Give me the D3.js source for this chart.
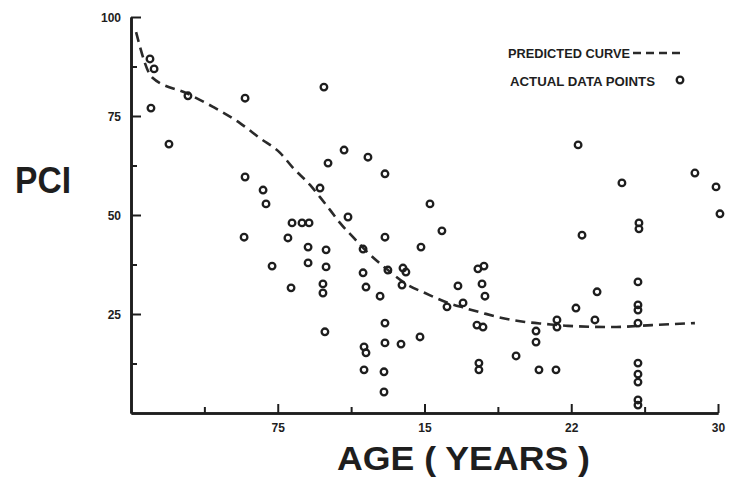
<!DOCTYPE html>
<html>
<head>
<meta charset="utf-8">
<script src="https://cdn.jsdelivr.net/npm/d3@7"></script>
<style>
  html, body { margin: 0; padding: 0; background: #fff; }
  svg { display: block; }
  .tick text { font-family: "Liberation Sans", Arial, sans-serif; font-weight: bold; font-size: 12px; fill: #1e1e1e; }
</style>
</head>
<body>
<svg id="chart" width="732" height="478"></svg>
<script>
// actual data points (age in years, PCI)
var pointAge = [0.97, 1.18, 1.02, 1.94, 2.91, 5.83, 5.83, 6.75, 6.9, 5.78,
  8.23, 8.74, 9.1, 8.02, 9.86, 10.07, 9.66, 7.21, 9.05, 9.05,
  9.97, 9.97, 8.18, 9.81, 9.81, 9.91, 10.89, 12.11, 12.98, 11.09,
  12.98, 15.28, 15.89, 14.82, 11.86, 11.86, 12.01, 12.73, 13.13, 13.9,
  14.05, 13.85, 12.98, 11.91, 12.01, 12.98, 13.8, 14.77, 11.91, 12.93,
  12.93, 16.71, 16.15, 16.97, 17.73, 18.04, 17.94, 18.09, 17.68, 17.99,
  17.78, 17.78, 19.68, 20.7, 20.7, 20.85, 21.72, 21.77, 21.77, 22.74,
  23.05, 22.85, 23.82, 23.71, 25.09, 25.96, 25.96, 25.91, 25.91, 25.91,
  25.91, 25.91, 25.91, 25.91, 25.91, 25.91, 28.82, 29.9, 30.1];
var pointPci = [89.4, 86.9, 77.0, 67.9, 80.1, 79.5, 59.6, 56.3, 52.8, 44.4,
  48.0, 48.0, 48.0, 44.2, 82.3, 63.1, 56.8, 37.1, 41.9, 37.9,
  41.2, 36.9, 31.6, 32.6, 30.3, 20.5, 66.4, 64.6, 60.4, 49.5,
  44.4, 52.8, 46.0, 41.9, 41.4, 35.4, 31.8, 29.5, 36.1, 36.6,
  35.6, 32.3, 22.7, 16.7, 15.2, 17.7, 17.4, 19.2, 10.9, 10.4,
  5.3, 32.1, 26.8, 27.8, 36.4, 37.1, 32.6, 29.5, 22.2, 21.7,
  12.6, 10.9, 14.4, 20.7, 17.9, 10.9, 10.9, 23.5, 21.7, 26.5,
  44.9, 67.7, 30.6, 23.5, 58.1, 48.0, 46.5, 33.1, 27.3, 26.0,
  22.7, 12.6, 9.8, 7.8, 3.3, 2.0, 60.6, 57.1, 50.3];

// predicted curve
var curveAge = [0.26, 1.07, 2.91, 4.19, 5.57, 6.59, 7.62, 8.28, 9.15, 9.66,
  10.17, 10.68, 11.35, 11.86, 13.13, 14.16, 15.03, 16.2, 17.07, 17.94,
  18.96, 20.14, 21.16, 22.33, 24.58, 26.63, 28.82];
var curvePci = [96.2, 84.8, 80.6, 77.3, 73.2, 69.4, 65.7, 61.9, 57.6, 54.5,
  51.3, 48.0, 44.4, 41.7, 36.1, 32.3, 30.3, 27.8, 26.5, 25.3,
  24.0, 23.0, 22.5, 22.0, 21.7, 22.2, 22.7];

var yTickValues = [25, 50, 75, 100];
var yMinorTicks = [12.5, 37.5, 62.5, 87.5];
var xTickValues = [7.5, 15, 22.5, 30];
var xTickLabels = ['75', '15', '22', '30'];
var xMinorTicks = [3.75, 11.25, 18.75, 26.25];

var svg = d3.select('#chart');
var ink = '#1e1e1e';

var x = d3.scaleLinear().domain([0, 30]).range([131, 718]);
var y = d3.scaleLinear().domain([0, 100]).range([413, 17]);

// Axes (ticks point inward)
var yAxis = svg.append('g')
  .attr('transform', 'translate(' + x(0) + ',0)')
  .call(d3.axisLeft(y).tickValues(yTickValues).tickSizeInner(-10).tickSizeOuter(0).tickPadding(10));
svg.append('g')
  .attr('transform', 'translate(' + x(0) + ',0)')
  .call(d3.axisLeft(y).tickValues(yMinorTicks).tickSizeInner(-6).tickSizeOuter(0).tickFormat(''));

var xAxis = svg.append('g')
  .attr('transform', 'translate(0,' + y(0) + ')')
  .call(d3.axisBottom(x).tickValues(xTickValues).tickSizeInner(-9).tickSizeOuter(0).tickPadding(10)
    .tickFormat(function(d, i) { return xTickLabels[i]; }));
svg.append('g')
  .attr('transform', 'translate(0,' + y(0) + ')')
  .call(d3.axisBottom(x).tickValues(xMinorTicks).tickSizeInner(-6).tickSizeOuter(0).tickFormat(''));

svg.selectAll('.domain').attr('stroke', ink).attr('stroke-width', 2.6);
svg.selectAll('.tick line').attr('stroke', ink).attr('stroke-width', 2);
yAxis.selectAll('.tick text').attr('dy', '0.36em');

// predicted curve
var curveData = curveAge.map(function(a, i) { return {age: a, pci: curvePci[i]}; });
var line = d3.line()
  .x(function(d) { return x(d.age); })
  .y(function(d) { return y(d.pci); })
  .curve(d3.curveMonotoneX);

svg.append('path')
  .datum(curveData)
  .attr('fill', 'none')
  .attr('stroke', '#2a2a2a')
  .attr('stroke-width', 2.6)
  .attr('stroke-dasharray', '10,6')
  .attr('d', line);

// data points
var points = pointAge.map(function(a, i) { return {age: a, pci: pointPci[i]}; });
svg.append('g').selectAll('circle')
  .data(points)
  .enter().append('circle')
  .attr('cx', function(d) { return x(d.age); })
  .attr('cy', function(d) { return y(d.pci); })
  .attr('r', 3.3)
  .attr('fill', 'none')
  .attr('stroke', ink)
  .attr('stroke-width', 2.3);

// legend
var legend = svg.append('g')
  .attr('font-family', '"Liberation Sans", Arial, sans-serif')
  .attr('font-weight', 'bold')
  .attr('font-size', 13)
  .attr('fill', ink);
legend.append('text').attr('x', 508).attr('y', 58)
  .attr('textLength', 122).attr('lengthAdjust', 'spacingAndGlyphs')
  .text('PREDICTED CURVE');
legend.append('line')
  .attr('x1', 633).attr('x2', 684).attr('y1', 53).attr('y2', 53)
  .attr('stroke', '#2a2a2a').attr('stroke-width', 2.6).attr('stroke-dasharray', '8,5');
legend.append('text').attr('x', 510).attr('y', 86)
  .attr('textLength', 145).attr('lengthAdjust', 'spacingAndGlyphs')
  .text('ACTUAL DATA POINTS');
legend.append('circle')
  .attr('cx', 680).attr('cy', 80).attr('r', 3.3)
  .attr('fill', 'none').attr('stroke', ink).attr('stroke-width', 2.3);

// axis titles
svg.append('text')
  .attr('x', 15).attr('y', 193)
  .attr('font-family', '"Liberation Sans", Arial, sans-serif')
  .attr('font-weight', 'bold').attr('font-size', 36)
  .attr('textLength', 56).attr('lengthAdjust', 'spacingAndGlyphs')
  .attr('fill', ink)
  .text('PCI');

svg.append('text')
  .attr('x', 337).attr('y', 470)
  .attr('font-family', '"Liberation Sans", Arial, sans-serif')
  .attr('font-weight', 'bold').attr('font-size', 33)
  .attr('textLength', 253).attr('lengthAdjust', 'spacingAndGlyphs')
  .attr('fill', ink)
  .text('AGE ( YEARS )');
</script>
</body>
</html>
